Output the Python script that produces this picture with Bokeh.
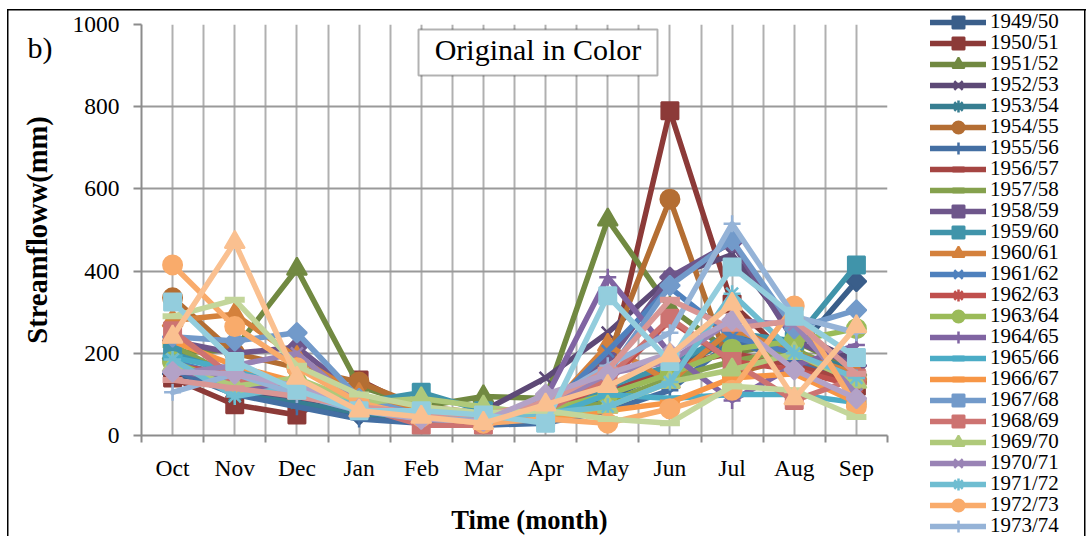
import math

from bokeh.plotting import figure
from bokeh.models import (Range1d, FixedTicker, Legend, LegendItem, Label,
                          BoxAnnotation, InlineStyleSheet)
from bokeh.embed import file_html
from bokeh.resources import INLINE

# ---- data: monthly streamflow (mm), hydrological year Oct..Sep ----
months = ["Oct", "Nov", "Dec", "Jan", "Feb", "Mar",
          "Apr", "May", "Jun", "Jul", "Aug", "Sep"]

seasons = ["1949/50", "1950/51", "1951/52", "1952/53", "1953/54", "1954/55",
           "1955/56", "1956/57", "1957/58", "1958/59", "1959/60", "1960/61",
           "1961/62", "1962/63", "1963/64", "1964/65", "1965/66", "1966/67",
           "1967/68", "1968/69", "1969/70", "1970/71", "1971/72", "1972/73",
           "1973/74", "1974/75", "1975/76", "1976/77", "1977/78", "1978/79"]

flow_1949_50 = [150, 120, 80, 50, 35, 30, 40, 90, 160, 250, 200, 375]
flow_1950_51 = [140, 75, 50, 135, 60, 40, 45, 150, 790, 320, 180, 120]
flow_1951_52 = [200, 210, 405, 120, 70, 95, 90, 525, 310, 200, 230, 160]
flow_1952_53 = [170, 110, 90, 70, 50, 60, 140, 250, 385, 440, 250, 180]
flow_1953_54 = [190, 100, 80, 55, 40, 35, 45, 110, 150, 240, 200, 160]
flow_1954_55 = [335, 200, 165, 130, 70, 55, 60, 190, 575, 150, 190, 130]
flow_1955_56 = [160, 100, 70, 40, 30, 25, 30, 60, 110, 230, 180, 120]
flow_1956_57 = [180, 130, 100, 80, 55, 45, 50, 100, 170, 200, 170, 130]
flow_1957_58 = [220, 140, 120, 90, 60, 50, 55, 80, 140, 180, 210, 140]
flow_1958_59 = [230, 200, 215, 95, 55, 45, 70, 180, 385, 470, 230, 170]
flow_1959_60 = [200, 150, 110, 80, 105, 60, 50, 120, 170, 250, 230, 415]
flow_1960_61 = [280, 295, 190, 100, 60, 45, 55, 220, 130, 260, 200, 150]
flow_1961_62 = [180, 140, 110, 60, 40, 35, 60, 205, 360, 240, 200, 140]
flow_1962_63 = [170, 150, 120, 70, 45, 40, 50, 130, 280, 180, 160, 120]
flow_1963_64 = [180, 120, 130, 75, 55, 45, 60, 100, 150, 210, 230, 260]
flow_1964_65 = [160, 130, 100, 60, 45, 40, 90, 385, 200, 85, 170, 220]
flow_1965_66 = [190, 160, 120, 70, 50, 40, 45, 100, 90, 100, 100, 80]
flow_1966_67 = [230, 170, 130, 65, 40, 35, 40, 60, 80, 140, 150, 80]
flow_1967_68 = [240, 230, 250, 90, 50, 40, 60, 150, 365, 475, 260, 305]
flow_1968_69 = [255, 140, 110, 70, 25, 25, 60, 140, 285, 180, 85, 140]
flow_1969_70 = [170, 120, 140, 80, 90, 70, 50, 70, 130, 160, 200, 130]
flow_1970_71 = [150, 170, 200, 75, 50, 45, 70, 150, 180, 280, 270, 100]
flow_1971_72 = [185, 95, 120, 70, 50, 40, 55, 70, 130, 345, 200, 140]
flow_1972_73 = [415, 265, 165, 80, 45, 30, 40, 30, 65, 110, 315, 70]
flow_1973_74 = [105, 150, 100, 60, 40, 35, 80, 170, 250, 515, 290, 250]
flow_1974_75 = [135, 115, 95, 70, 55, 50, 80, 160, 330, 260, 280, 150]
flow_1975_76 = [290, 330, 170, 100, 70, 55, 60, 40, 30, 120, 110, 45]
flow_1976_77 = [155, 150, 120, 65, 40, 35, 100, 150, 200, 280, 160, 90]
flow_1977_78 = [325, 180, 110, 60, 60, 50, 30, 340, 180, 410, 290, 190]
flow_1978_79 = [240, 470, 140, 60, 45, 30, 75, 120, 195, 320, 90, 265]

flows = [flow_1949_50, flow_1950_51, flow_1951_52, flow_1952_53, flow_1953_54,
         flow_1954_55, flow_1955_56, flow_1956_57, flow_1957_58, flow_1958_59,
         flow_1959_60, flow_1960_61, flow_1961_62, flow_1962_63, flow_1963_64,
         flow_1964_65, flow_1965_66, flow_1966_67, flow_1967_68, flow_1968_69,
         flow_1969_70, flow_1970_71, flow_1971_72, flow_1972_73, flow_1973_74,
         flow_1974_75, flow_1975_76, flow_1976_77, flow_1977_78, flow_1978_79]

y_ticks = [0, 200, 400, 600, 800, 1000]
legend_count = 25

# ---- styling: office-style accent palette, darker first, lighter later ----
accents = ["#4F81BD", "#C0504D", "#9BBB59", "#8064A2", "#4BACC6", "#F79646"]
# (mode, amount) per block of six series
blocks = [("shade", 0.73), ("shade", 0.86), ("base", 0.0),
          ("tint", 0.2), ("tint", 0.4)]


def adjust(hex_color, mode, amt):
    r, g, b = (int(hex_color[i:i + 2], 16) for i in (1, 3, 5))
    if mode == "shade":
        r, g, b = (round(c * amt) for c in (r, g, b))
    elif mode == "tint":
        r, g, b = (round(c + (255 - c) * amt) for c in (r, g, b))
    return "#%02X%02X%02X" % (r, g, b)


marker_cycle = ["diamond", "square", "triangle", "x", "asterisk",
                "circle", "cross", "dash", "dash"]


def series_style(i):
    mode, amt = blocks[(i // 6) % len(blocks)]
    return adjust(accents[i % 6], mode, amt), marker_cycle[i % len(marker_cycle)]


def draw_series(fig, xs, ys, color, mk):
    line_r = fig.line(xs, ys, line_color=color, line_width=5.5,
                      line_join="round", line_cap="round")
    if mk == "diamond":
        sc = fig.scatter(xs, ys, marker="square", angle=math.pi / 4, size=14,
                         fill_color=color, line_color=color, line_width=2)
    elif mk == "square":
        sc = fig.scatter(xs, ys, marker="square", size=17,
                         fill_color=color, line_color=color, line_width=2)
    elif mk == "triangle":
        sc = fig.scatter(xs, ys, marker="triangle", size=20,
                         fill_color=color, line_color=color, line_width=2)
    elif mk == "circle":
        sc = fig.scatter(xs, ys, marker="circle", size=19,
                         fill_color=color, line_color=color, line_width=2)
    elif mk == "dash":
        sc = fig.scatter(xs, ys, marker="dash", size=20,
                         line_color=color, line_width=6)
    else:
        sc = fig.scatter(xs, ys, marker=mk, size=17,
                         line_color=color, line_width=2.5)
    return line_r, sc


SERIF = "Liberation Serif"
MAIN_W, LEG_W, H = 917, 175, 536

# thin black chart-area frame, painted behind the transparent canvas borders
main_css = ("linear-gradient(#000,#000) 7px 9px/%dpx 1.5px no-repeat, "
            "linear-gradient(#000,#000) 7px 9px/1.5px 640px no-repeat, #fff"
            % (MAIN_W - 7))
leg_css = ("linear-gradient(#000,#000) 0px 9px/%dpx 1.5px no-repeat, "
           "linear-gradient(#000,#000) %dpx 9px/1.5px 640px no-repeat, #fff"
           % (1086 - MAIN_W, 1084 - MAIN_W))

# ---------------- main chart ----------------
p = figure(width=MAIN_W, height=H, output_backend="svg", toolbar_location=None,
           x_range=Range1d(-0.5, len(months) - 0.5), y_range=Range1d(0, 1000),
           min_border_left=141, min_border_right=30, min_border_top=24,
           min_border_bottom=101, outline_line_color=None,
           background_fill_color="white", border_fill_color=None,
           styles={"background": main_css})

xpos = list(range(len(months)))
p.xaxis.ticker = FixedTicker(ticks=xpos,
                             minor_ticks=[i - 0.5 for i in range(len(months) + 1)])
p.xaxis.major_label_overrides = {i: m for i, m in enumerate(months)}
p.xaxis.major_tick_line_color = None
p.xaxis.minor_tick_out = 7
p.xaxis.minor_tick_in = 0
p.xaxis.minor_tick_line_color = "#8C8C8C"
p.xaxis.minor_tick_line_width = 2

p.yaxis.ticker = FixedTicker(ticks=y_ticks, minor_ticks=[])
p.yaxis.major_tick_out = 8
p.yaxis.major_tick_in = 0
p.yaxis.major_tick_line_color = "#8C8C8C"
p.yaxis.major_tick_line_width = 2

for ax in (p.xaxis, p.yaxis):
    ax.axis_line_color = "#8C8C8C"
    ax.axis_line_width = 2
    ax.major_label_text_font = SERIF
    ax.major_label_text_font_size = "23.5px"
    ax.major_label_text_color = "black"

p.xaxis.major_label_standoff = 12
p.yaxis.major_label_standoff = 14
p.yaxis.axis_label = "Streamfloww(mm)"
p.yaxis.axis_label_text_font = SERIF
p.yaxis.axis_label_text_font_style = "bold"
p.yaxis.axis_label_text_color = "black"
p.yaxis.axis_label_text_font_size = "28.5px"
p.yaxis.axis_label_standoff = 17

# grid: horizontal at value ticks, vertical at month centres and boundaries
p.ygrid.grid_line_color = "#9A9A9A"
p.ygrid.grid_line_width = 2
p.xgrid.grid_line_color = "#B0B0B0"
p.xgrid.grid_line_width = 2
p.xgrid.minor_grid_line_color = "#B0B0B0"
p.xgrid.minor_grid_line_width = 2

for i, vals in enumerate(flows):
    color, mk = series_style(i)
    draw_series(p, xpos, vals, color, mk)

# caption box
p.add_layout(BoxAnnotation(left=3.956, right=7.80, top=988, bottom=876,
                           fill_color="white", fill_alpha=1,
                           line_color="black", line_width=2))
p.add_layout(Label(x=5.878, y=938, text="Original in Color", text_align="center",
                   text_baseline="middle", text_font=SERIF,
                   text_font_size="30px", text_color="black"))

# x axis title and panel letter, placed in absolute canvas pixels
p.add_layout(Label(x=529, y=519, x_units="canvas", y_units="canvas",
                   text="Time (month)", text_align="center",
                   text_baseline="middle", text_font=SERIF,
                   text_font_size="26.5px", text_font_style="bold",
                   text_line_height=1.0, text_color="black"),
             "below")
p.add_layout(Label(x=27, y=47, x_units="canvas", y_units="canvas", text="b)",
                   text_align="left", text_baseline="alphabetic",
                   text_font=SERIF, text_font_size="30px",
                   text_line_height=1.0, text_color="black"),
             "right")

# ---------------- legend column (pinned to the right of the chart) ----------------
pin_css = InlineStyleSheet(css=":host { position: absolute !important; "
                               "left: %dpx !important; top: 0px !important; }"
                               % MAIN_W)
lg = figure(width=LEG_W, height=H, output_backend="svg", toolbar_location=None,
            x_axis_location=None, y_axis_location=None,
            x_range=Range1d(100, 101), y_range=Range1d(5000, 5001),
            min_border_left=0, min_border_right=0, min_border_top=0,
            min_border_bottom=0, outline_line_color=None,
            background_fill_color=None, border_fill_color=None,
            styles={"background": leg_css}, stylesheets=[pin_css])
lg.grid.visible = False

items = []
for i in range(legend_count):
    color, mk = series_style(i)
    # same series, kept outside this panel's view: only the key glyphs show
    line_r, sc = draw_series(lg, xpos, flows[i], color, mk)
    items.append(LegendItem(label=seasons[i], renderers=[line_r, sc]))

# two interleaved columns of entries give a 21 px pitch
legend_opts = dict(orientation="vertical", glyph_width=56, glyph_height=30,
                   label_height=21, label_standoff=4, spacing=12, padding=0,
                   margin=0, label_text_font=SERIF, label_text_font_size="21px",
                   label_text_color="black", background_fill_alpha=0,
                   border_line_color=None)
lg.add_layout(Legend(items=items[0::2], location=(13, -4.5), **legend_opts),
              "center")
lg.add_layout(Legend(items=items[1::2], location=(13, 16.5), **legend_opts),
              "center")

open("out.html", "w").write(file_html([p, lg], INLINE))
